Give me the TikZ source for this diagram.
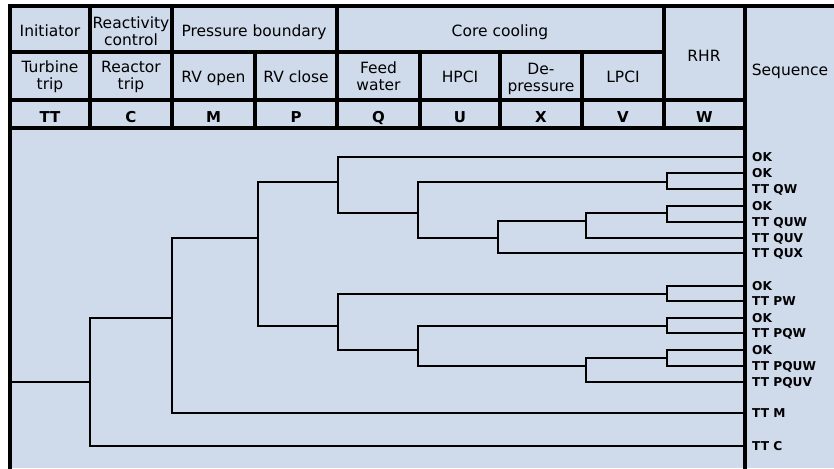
\documentclass[tikz,border=0pt]{standalone}
\usepackage{fontspec}
\setmainfont{DejaVu Sans}
\definecolor{panel}{RGB}{207,218,235}
\tikzset{
  hdr/.style={font=\fontsize{15.5}{17}\selectfont, align=center, inner sep=0pt},
  codetxt/.style={font=\bfseries\fontsize{15}{17}\selectfont, inner sep=0pt, anchor=base},
  seqlbl/.style={font=\bfseries\fontsize{12.2}{14}\selectfont, inner sep=0pt, anchor=base west},
  gridline/.style={line width=3.2pt, line cap=rect},
  branch/.style={line width=2.8pt, line cap=rect, line join=miter},
}
\begin{document}
\begin{tikzpicture}[x=1pt,y=-1pt]
\useasboundingbox (0,0) rectangle (834,468);
\fill[white] (0,0) rectangle (834,468);
\fill[panel] (10,6) rectangle (834,468);

% ---------- header grid ----------
\draw[gridline] (10,6) -- (834,6);
\draw[gridline] (10,6) -- (10,468);
\draw[gridline] (745,6) -- (745,468);
\draw[gridline] (10,52) -- (664,52);
\draw[gridline] (10,100) -- (745,100);
\draw[gridline] (10,128) -- (745,128);
\draw[gridline] (90,6) -- (90,128);
\draw[gridline] (172,6) -- (172,128);
\draw[gridline] (255,52) -- (255,128);
\draw[gridline] (337,6) -- (337,128);
\draw[gridline] (420,52) -- (420,128);
\draw[gridline] (500,52) -- (500,128);
\draw[gridline] (582,52) -- (582,128);
\draw[gridline] (664,6) -- (664,128);

% ---------- header texts ----------
\node[hdr, anchor=base] (hInit) at (50,36.5) {Initiator};
\node[hdr] (hReact) at (131,31.5) {Reactivity\\control};
\node[hdr, anchor=base] (hPress) at (254,36.5) {Pressure boundary};
\node[hdr, anchor=base] (hCore) at (500,36.5) {Core cooling};
\node[hdr, anchor=base] (hRHR) at (704,62) {RHR};
\node[hdr, anchor=base] (hSeq) at (790,76) {Sequence};

\node[hdr] (hTurb) at (50,77) {Turbine\\trip};
\node[hdr] (hRtrip) at (131,77) {Reactor\\trip};
\node[hdr, anchor=base] (hRVo) at (213.5,83) {RV open};
\node[hdr, anchor=base] (hRVc) at (296,83) {RV close};
\node[hdr] (hFeed) at (378.5,76) {Feed\\water};
\node[hdr, anchor=base] (hHPCI) at (460,83) {HPCI};
\node[hdr] (hDep) at (541,78.5) {De-\\pressure};
\node[hdr, anchor=base] (hLPCI) at (623,83) {LPCI};

\node[codetxt] (cTT) at (50,122) {TT};
\node[codetxt] (cC) at (131,122) {C};
\node[codetxt] (cM) at (213.5,122) {M};
\node[codetxt] (cP) at (296,122) {P};
\node[codetxt] (cQ) at (378.5,122) {Q};
\node[codetxt] (cU) at (460,122) {U};
\node[codetxt] (cX) at (541,122) {X};
\node[codetxt] (cV) at (623,122) {V};
\node[codetxt] (cW) at (704.5,122) {W};

% ---------- tree coordinates ----------
\coordinate (s) at (10,382);
\coordinate (jTT) at (90,382); \coordinate (tTT) at (90,318); \coordinate (bTT) at (90,446);
\coordinate (jC) at (172,318); \coordinate (tC) at (172,238); \coordinate (bC) at (172,413);
\coordinate (jM) at (258,238); \coordinate (tM) at (258,182); \coordinate (bM) at (258,326);
% upper P branch
\coordinate (jP1) at (338,182); \coordinate (tP1) at (338,157); \coordinate (bP1) at (338,213);
\coordinate (jQ1) at (418,213); \coordinate (tQ1) at (418,182); \coordinate (bQ1) at (418,238);
\coordinate (jW1) at (667,182); \coordinate (tW1) at (667,173); \coordinate (bW1) at (667,189);
\coordinate (jU1) at (498,238); \coordinate (tU1) at (498,221); \coordinate (bU1) at (498,253);
\coordinate (jX1) at (586,221); \coordinate (tX1) at (586,213); \coordinate (bX1) at (586,238);
\coordinate (jW2) at (667,213); \coordinate (tW2) at (667,206); \coordinate (bW2) at (667,222);
% lower P branch
\coordinate (jP2) at (338,326); \coordinate (tP2) at (338,294); \coordinate (bP2) at (338,350);
\coordinate (jW3) at (667,294); \coordinate (tW3) at (667,286); \coordinate (bW3) at (667,301);
\coordinate (jQ2) at (418,350); \coordinate (tQ2) at (418,326); \coordinate (bQ2) at (418,366);
\coordinate (jW4) at (667,326); \coordinate (tW4) at (667,318); \coordinate (bW4) at (667,333);
\coordinate (jX2) at (586,366); \coordinate (tX2) at (586,358); \coordinate (bX2) at (586,382);
\coordinate (jW5) at (667,358); \coordinate (tW5) at (667,350); \coordinate (bW5) at (667,366);
% end points on the sequence line
\coordinate (e1) at (745,157);
\coordinate (e2) at (745,173);
\coordinate (e3) at (745,189);
\coordinate (e4) at (745,206);
\coordinate (e5) at (745,222);
\coordinate (e6) at (745,238);
\coordinate (e7) at (745,253);
\coordinate (e8) at (745,286);
\coordinate (e9) at (745,301);
\coordinate (e10) at (745,318);
\coordinate (e11) at (745,333);
\coordinate (e12) at (745,350);
\coordinate (e13) at (745,366);
\coordinate (e14) at (745,382);
\coordinate (e15) at (745,413);
\coordinate (e16) at (745,446);

% ---------- tree ----------
\draw[branch] (s) -- (jTT);
\draw[branch] (tTT) -- (bTT);
\draw[branch] (bTT) -- (e16);
\draw[branch] (tTT) -- (jC);
\draw[branch] (tC) -- (bC);
\draw[branch] (bC) -- (e15);
\draw[branch] (tC) -- (jM);
\draw[branch] (tM) -- (bM);
% upper P
\draw[branch] (tM) -- (jP1);
\draw[branch] (tP1) -- (bP1);
\draw[branch] (tP1) -- (e1);
\draw[branch] (bP1) -- (jQ1);
\draw[branch] (tQ1) -- (bQ1);
\draw[branch] (tQ1) -- (jW1);
\draw[branch] (tW1) -- (bW1);
\draw[branch] (tW1) -- (e2);
\draw[branch] (bW1) -- (e3);
\draw[branch] (bQ1) -- (jU1);
\draw[branch] (tU1) -- (bU1);
\draw[branch] (bU1) -- (e7);
\draw[branch] (tU1) -- (jX1);
\draw[branch] (tX1) -- (bX1);
\draw[branch] (bX1) -- (e6);
\draw[branch] (tX1) -- (jW2);
\draw[branch] (tW2) -- (bW2);
\draw[branch] (tW2) -- (e4);
\draw[branch] (bW2) -- (e5);
% lower P
\draw[branch] (bM) -- (jP2);
\draw[branch] (tP2) -- (bP2);
\draw[branch] (tP2) -- (jW3);
\draw[branch] (tW3) -- (bW3);
\draw[branch] (tW3) -- (e8);
\draw[branch] (bW3) -- (e9);
\draw[branch] (bP2) -- (jQ2);
\draw[branch] (tQ2) -- (bQ2);
\draw[branch] (tQ2) -- (jW4);
\draw[branch] (tW4) -- (bW4);
\draw[branch] (tW4) -- (e10);
\draw[branch] (bW4) -- (e11);
\draw[branch] (bQ2) -- (jX2);
\draw[branch] (tX2) -- (bX2);
\draw[branch] (bX2) -- (e14);
\draw[branch] (tX2) -- (jW5);
\draw[branch] (tW5) -- (bW5);
\draw[branch] (tW5) -- (e12);
\draw[branch] (bW5) -- (e13);

% ---------- sequence labels ----------
\node[seqlbl] (l1) at (752,161.5) {OK};
\node[seqlbl] (l2) at (752,177.5) {OK};
\node[seqlbl] (l3) at (752,193.5) {TT QW};
\node[seqlbl] (l4) at (752,210.5) {OK};
\node[seqlbl] (l5) at (752,226.5) {TT QUW};
\node[seqlbl] (l6) at (752,242.5) {TT QUV};
\node[seqlbl] (l7) at (752,257.5) {TT QUX};
\node[seqlbl] (l8) at (752,290.5) {OK};
\node[seqlbl] (l9) at (752,305.5) {TT PW};
\node[seqlbl] (l10) at (752,322) {OK};
\node[seqlbl] (l11) at (752,337.5) {TT PQW};
\node[seqlbl] (l12) at (752,354) {OK};
\node[seqlbl] (l13) at (752,370) {TT PQUW};
\node[seqlbl] (l14) at (752,386) {TT PQUV};
\node[seqlbl] (l15) at (752,417.5) {TT M};
\node[seqlbl] (l16) at (752,450) {TT C};
\end{tikzpicture}
\end{document}
